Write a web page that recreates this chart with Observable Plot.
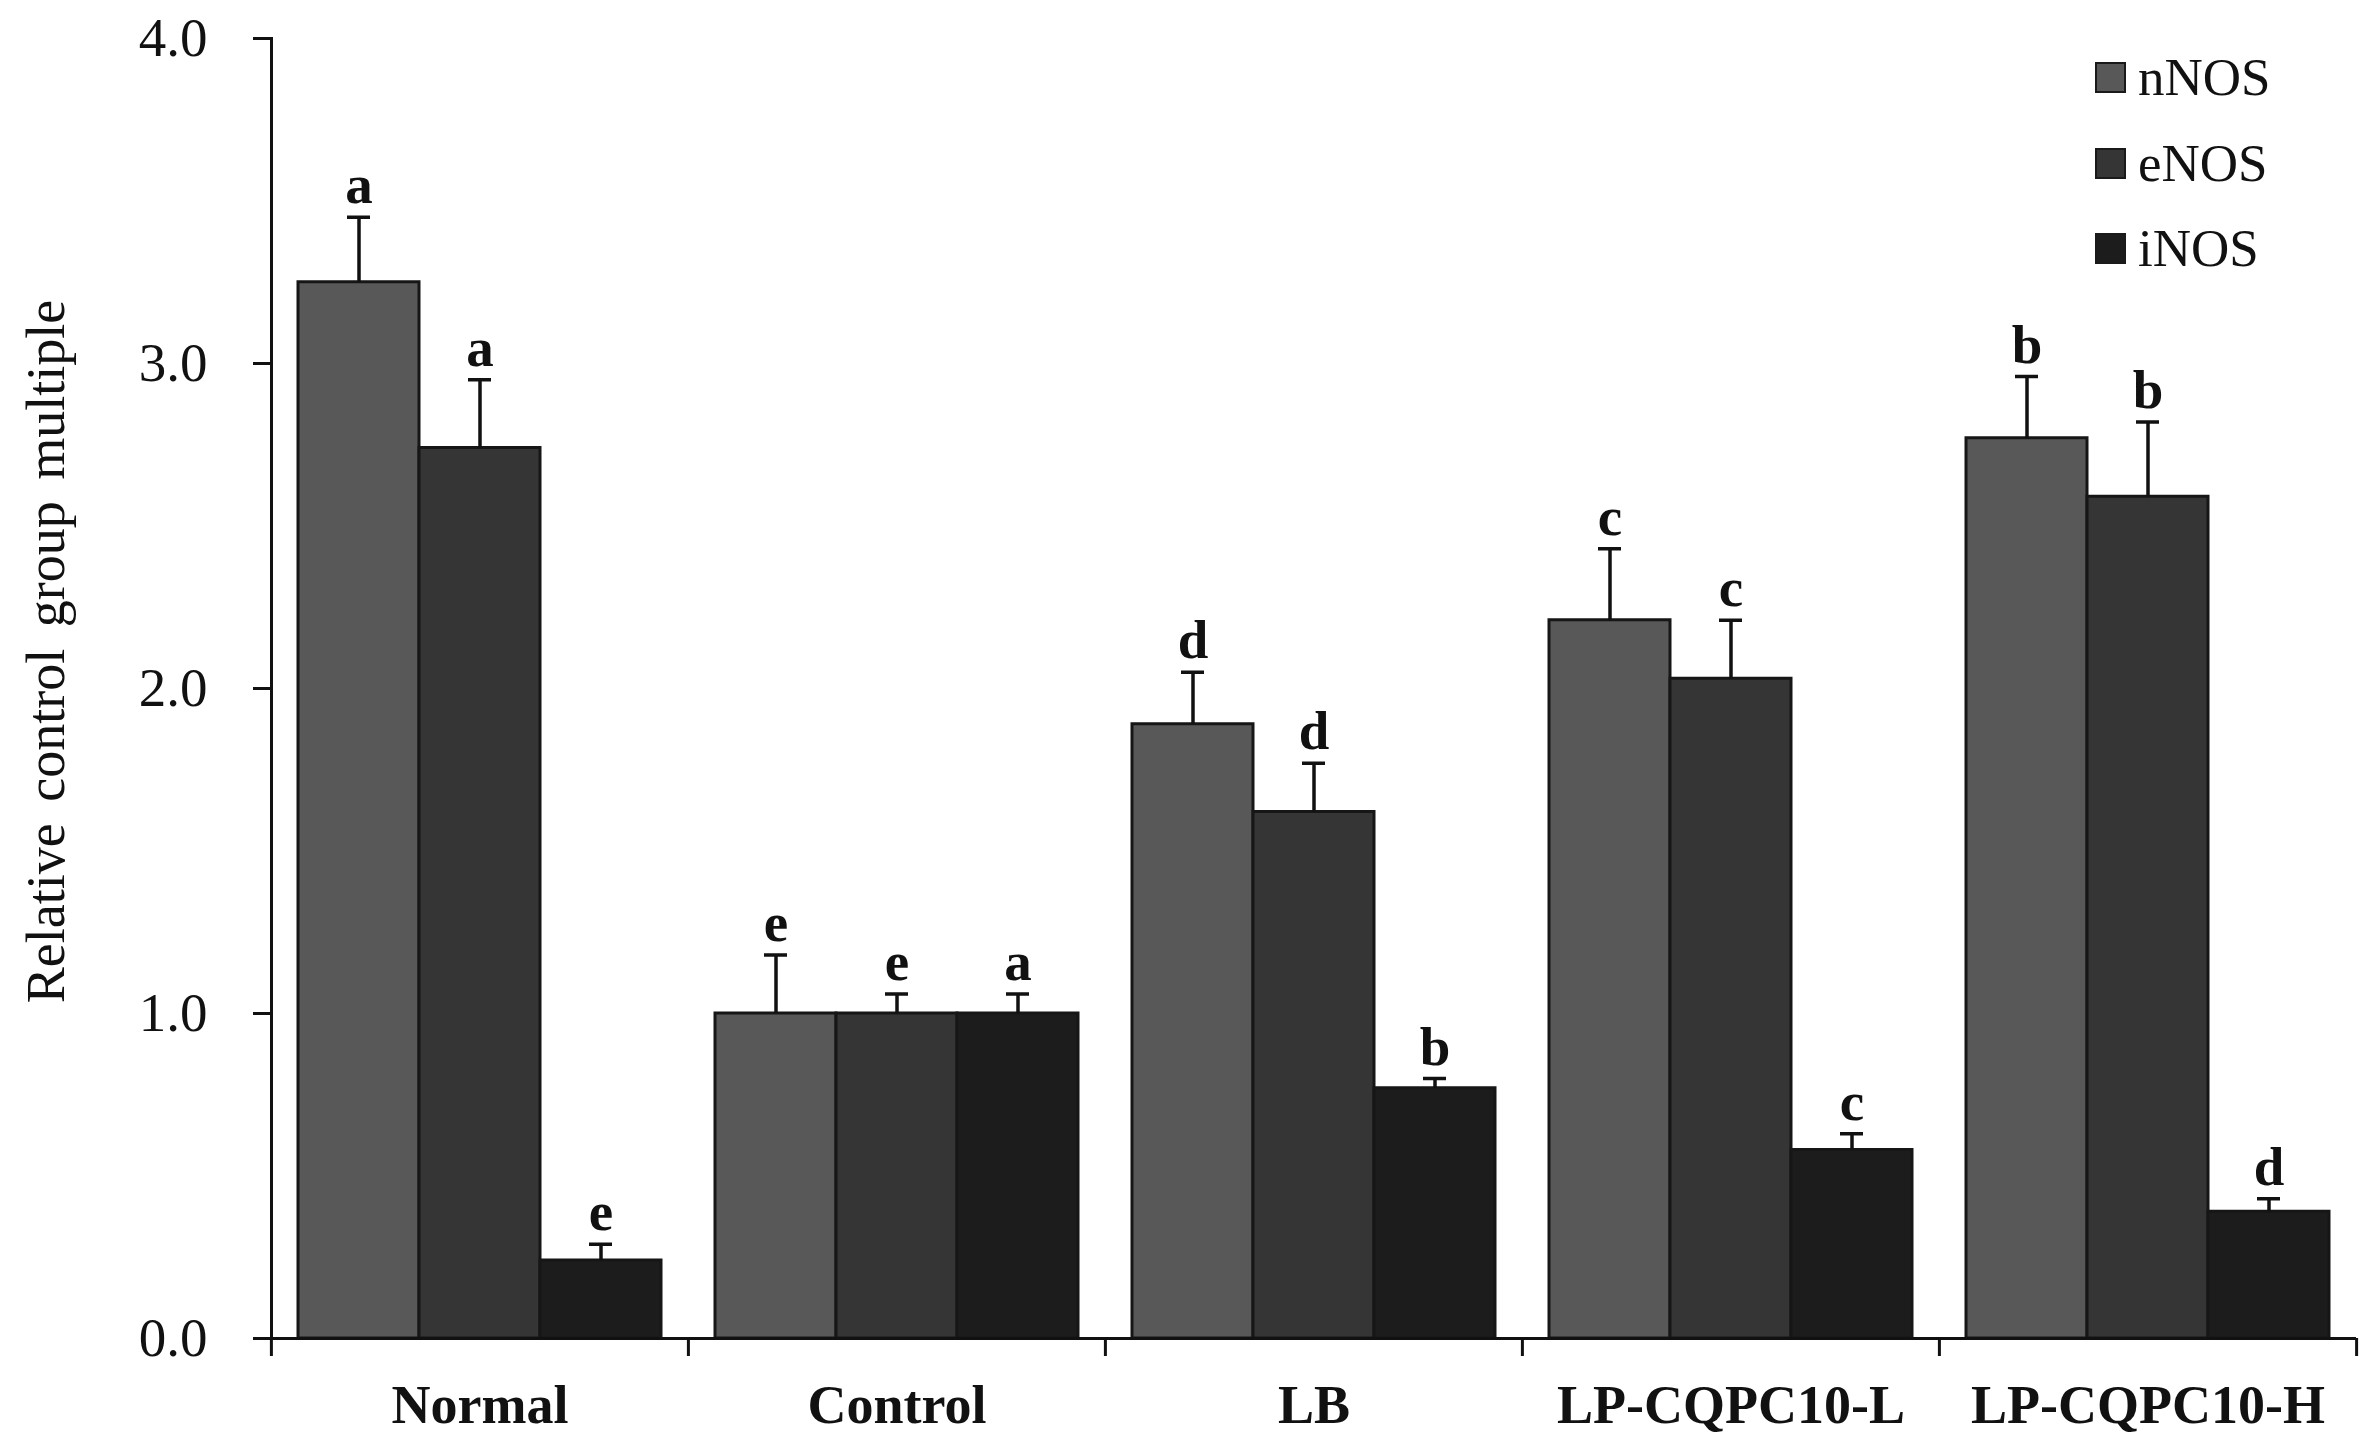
<!DOCTYPE html>
<html>
<head>
<meta charset="utf-8">
<script src="https://cdn.jsdelivr.net/npm/d3@7"></script>
<script src="https://cdn.jsdelivr.net/npm/@observablehq/plot@0.6"></script>
<style>
  body { margin: 0; background: #fff; }
  #wrap { position: relative; width: 2376px; height: 1443px; background: #fff; }
  #legend { position: absolute; left: 0; top: 0; font-family: "Liberation Serif", "Times New Roman", serif; color: #111; }
  .row { position: absolute; display: flex; align-items: center; height: 60px; }
  .sw { width: 27px; height: 27px; border: 2px solid #1a1a1a; margin-right: 12px; }
  .lab { font-size: 53px; line-height: 60px; }
</style>
</head>
<body>
<div id="wrap"><div id="legend"></div></div>
<script>
// ---- data ----
const categories = ["Normal", "Control", "LB", "LP-CQPC10-L", "LP-CQPC10-H"];
const series = ["nNOS", "eNOS", "iNOS"];
const nNOS     = [3.25, 1.00, 1.89, 2.21, 2.77];
const nNOS_err = [0.20, 0.18, 0.16, 0.22, 0.19];
const eNOS     = [2.74, 1.00, 1.62, 2.03, 2.59];
const eNOS_err = [0.21, 0.06, 0.15, 0.18, 0.23];
const iNOS     = [0.24, 1.00, 0.77, 0.58, 0.39];
const iNOS_err = [0.05, 0.06, 0.03, 0.05, 0.04];
const nNOS_sig = ["a", "e", "d", "c", "b"];
const eNOS_sig = ["a", "e", "d", "c", "b"];
const iNOS_sig = ["e", "a", "b", "c", "d"];
const yTicks = [0, 1, 2, 3, 4];
const yTitle = "Relative control group multiple";
const colors = ["#585858", "#353535", "#1c1c1c"];

const values = {nNOS, eNOS, iNOS};
const errs = {nNOS: nNOS_err, eNOS: eNOS_err, iNOS: iNOS_err};
const sigs = {nNOS: nNOS_sig, eNOS: eNOS_sig, iNOS: iNOS_sig};
const data = categories.flatMap((c, i) => series.map(s => ({
  category: c, series: s, value: values[s][i], err: errs[s][i], sig: sigs[s][i]
})));

// ---- layout ----
const width = 2376, height = 1443;
const mL = 270, mR = 20, mT = 38, mB = 105;
const step = (width - mL - mR) / categories.length;
const serif = '"Liberation Serif", "Times New Roman", serif';
const ink = "#111";

const chart = Plot.plot({
  width, height,
  marginLeft: mL, marginRight: mR, marginTop: mT, marginBottom: mB,
  style: {fontFamily: serif, background: "#fff", color: ink},
  fx: {domain: categories, padding: 0, label: null},
  x: {domain: series, paddingInner: 0, paddingOuter: 0.22, axis: null},
  y: {domain: [0, 4], axis: null},
  color: {domain: series, range: colors},
  marks: [
    Plot.frame({anchor: "left", facetAnchor: "left", stroke: ink, strokeWidth: 3}),
    Plot.barY(data, {fx: "category", x: "series", y: "value", fill: "series", stroke: "#161616", strokeWidth: 3}),
    Plot.ruleX(data, {fx: "category", x: "series", y1: "value", y2: d => d.value + d.err, stroke: ink, strokeWidth: 3.5}),
    Plot.tickY(data, {fx: "category", x: "series", y: d => d.value + d.err, stroke: ink, strokeWidth: 3.5, insetLeft: 49, insetRight: 49}),
    Plot.text(data, {fx: "category", x: "series", y: d => d.value + d.err, text: "sig", lineAnchor: "bottom", dy: -14, fontSize: 55, fontWeight: "bold", fill: ink}),
    Plot.ruleY([0], {stroke: ink, strokeWidth: 3}),
    Plot.axisY({ticks: yTicks, tickSize: 18, tickPadding: 46, tickFormat: d3.format(".1f"), fontSize: 55, label: null, strokeWidth: 3, stroke: ink}),
    Plot.axisFx({anchor: "bottom", tickSize: 0, tickPadding: 46, fontSize: 54, fontWeight: "bold", label: null}),
    Plot.axisFx({anchor: "bottom", tickSize: 18, tickFormat: () => "", dx: -step / 2, label: null, strokeWidth: 3, stroke: ink}),
    Plot.axisFx({anchor: "bottom", ticks: [categories[categories.length - 1]], tickSize: 18, tickFormat: () => "", dx: step / 2, label: null, strokeWidth: 3, stroke: ink}),
    Plot.text([yTitle], {frameAnchor: "left", facetAnchor: "left", textAnchor: "middle", rotate: -90, dx: -225, dy: -37, fontSize: 54, fill: ink})
  ]
});

// slightly wider word gaps in the axis title, as in the original
d3.select(chart).selectAll("text").filter(function () { return this.textContent === yTitle; })
  .style("word-spacing", "8px");

const wrap = document.getElementById("wrap");
wrap.insertBefore(chart, wrap.firstChild);

// ---- legend (overlay, top right) ----
const legend = document.getElementById("legend");
const rowTops = [47, 133, 218];
series.forEach((s, i) => {
  const row = document.createElement("div");
  row.className = "row";
  row.style.left = "2095px";
  row.style.top = rowTops[i] + "px";
  const sw = document.createElement("div");
  sw.className = "sw";
  sw.style.background = colors[i];
  const lab = document.createElement("span");
  lab.className = "lab";
  lab.textContent = s;
  row.appendChild(sw);
  row.appendChild(lab);
  legend.appendChild(row);
});
</script>
</body>
</html>
